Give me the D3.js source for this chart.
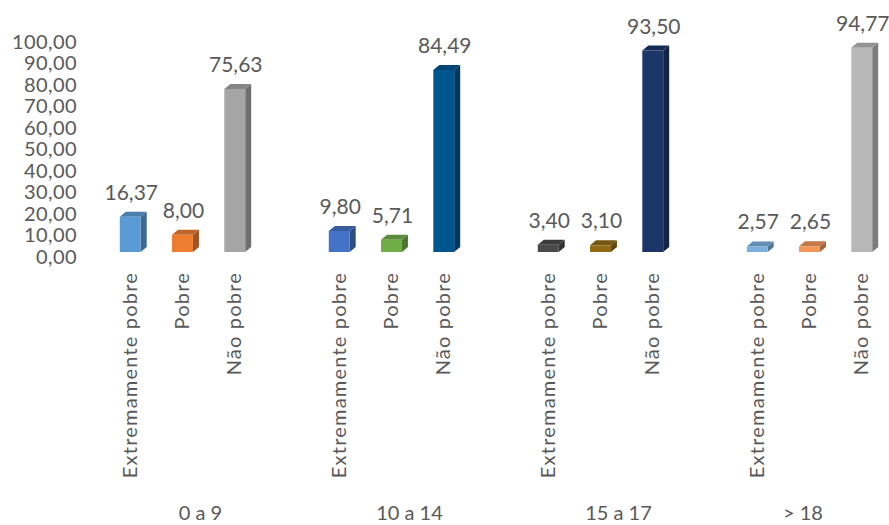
<!DOCTYPE html>
<html>
<head>
<meta charset="utf-8">
<script src="https://d3js.org/d3.v7.min.js"></script>
<style>
 body { margin: 0; background: #fff; }
 text { font-family: Lato, "Noto Sans", sans-serif; fill: #595959; }
</style>
</head>
<body>
<script type="text/javascript">
 // data
 var groups = ["0 a 9", "10 a 14", "15 a 17", "> 18"];
 var series = ["Extremamente pobre", "Pobre", "Não pobre"];
 var values = [
   [16.37, 8.00, 75.63],
   [9.80, 5.71, 84.49],
   [3.40, 3.10, 93.50],
   [2.57, 2.65, 94.77]
 ];
 var colors = [
   ["#5B9BD5", "#ED7D31", "#A5A5A5"],
   ["#4472C4", "#70AD47", "#00558E"],
   ["#4A4A4A", "#8F6A12", "#1C3668"],
   ["#7CAFDD", "#F1975A", "#B7B7B7"]
 ];
 var yTicks = [0, 10, 20, 30, 40, 50, 60, 70, 80, 90, 100];

 var W = 889, H = 525;
 var depthX = 6, depthY = 5;
 var fmt = function(v) { return d3.format(".2f")(v).replace(".", ","); };

 var svg = d3.select("body").append("svg")
    .attr("width", W)
    .attr("height", H);

 var x0 = d3.scaleBand()
    .domain(groups)
    .range([78, 914])
    .padding(0);
 var x1 = d3.scaleBand()
    .domain(series)
    .range([0, x0.bandwidth()])
    .paddingInner(0.6)
    .paddingOuter(0.8);
 var y = d3.scaleLinear()
    .domain([0, 100])
    .range([252, 36.5]);

 // y axis labels (no line, they sit on the back wall)
 var yAxis = svg.append("g").attr("class", "y axis");
 yAxis.selectAll("text")
    .data(yTicks)
    .enter()
    .append("text")
    .attr("x", 77)
    .attr("y", function(d) { return y(d) + 5; })
    .attr("dy", "0.35em")
    .attr("text-anchor", "end")
    .style("font-size", "20px")
    .style("letter-spacing", "0.4px")
    .text(fmt);

 var rows = [];
 groups.forEach(function(g, i) {
   series.forEach(function(s, j) {
     rows.push({group: g, serie: s, value: values[i][j], color: colors[i][j]});
   });
 });

 var bars = svg.selectAll(".bar")
    .data(rows)
    .enter()
    .append("g")
    .attr("class", "bar");

 bars.each(function(d) {
   var g = d3.select(this);
   var xl = x0(d.group) + x1(d.serie), xr = xl + x1.bandwidth();
   var yt = y(d.value), yb = y(0);
   var c = d3.color(d.color);
   // side
   g.append("path")
    .attr("d", "M" + xr + "," + yb + "L" + (xr + depthX) + "," + (yb - depthY) +
         "L" + (xr + depthX) + "," + (yt - depthY) + "L" + xr + "," + yt + "Z")
    .attr("fill", c.darker(1.1));
   // top
   g.append("path")
    .attr("d", "M" + xl + "," + yt + "L" + xr + "," + yt +
         "L" + (xr + depthX) + "," + (yt - depthY) + "L" + (xl + depthX) + "," + (yt - depthY) + "Z")
    .attr("fill", c.darker(0.6));
   // front
   g.append("rect")
    .attr("x", xl)
    .attr("y", yt)
    .attr("width", x1.bandwidth())
    .attr("height", yb - yt)
    .attr("fill", d.color);
   // value label
   g.append("text")
    .attr("x", xl + x1.bandwidth() / 2 + 1)
    .attr("y", yt - 17)
    .attr("text-anchor", "middle")
    .style("font-size", "21px")
    .text(fmt(d.value));
   // category label (rotated)
   g.append("text")
    .attr("transform", "translate(" + (xl + x1.bandwidth() / 2) + ",272) rotate(-90)")
    .attr("dy", "0.32em")
    .attr("text-anchor", "end")
    .style("font-size", "20px")
    .style("letter-spacing", "1.2px")
    .text(d.serie);
 });

 // group labels
 svg.append("g")
    .attr("class", "x axis")
    .selectAll("text")
    .data(groups)
    .enter()
    .append("text")
    .attr("x", function(d) { return Math.min(x0(d) + x0.bandwidth() / 2 + 18, W - 86); })
    .attr("y", 520)
    .attr("text-anchor", "middle")
    .style("font-size", "20px")
    .text(function(d) { return d; });
</script>
</body>
</html>
